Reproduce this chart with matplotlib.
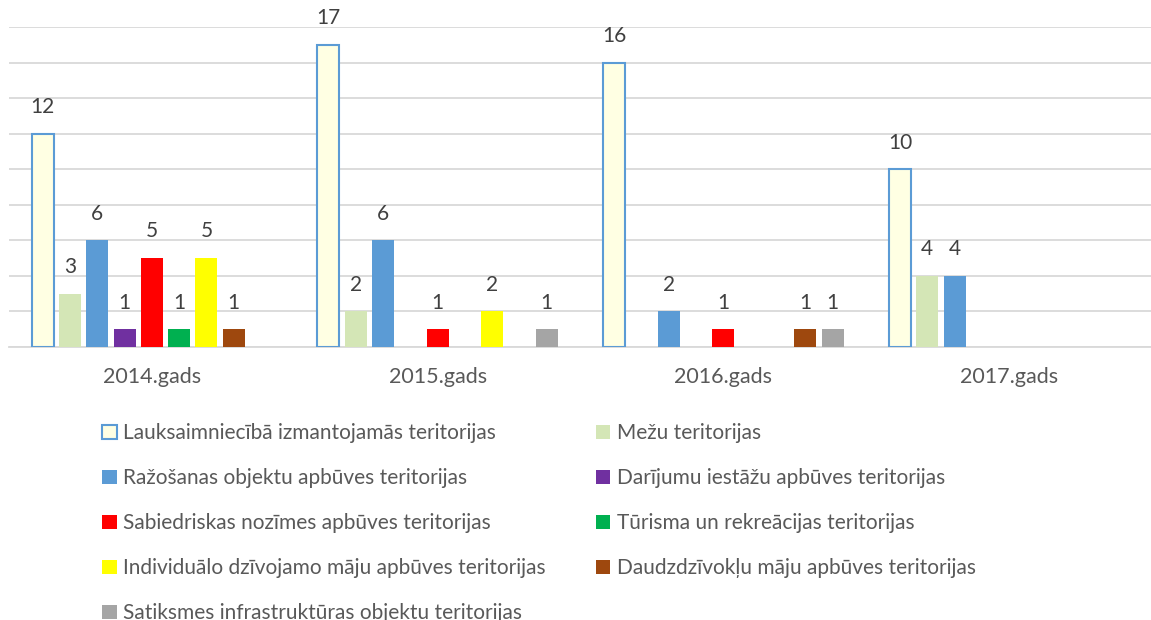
#!/usr/bin/env python3
"""Grouped bar chart of territory types by year."""

import matplotlib

matplotlib.use("Agg")
import matplotlib.pyplot as plt
import numpy as np

plt.rcParams["font.family"] = ["Lato", "DejaVu Sans"]

YEARS = ["2014.gads", "2015.gads", "2016.gads", "2017.gads"]
SERIES = [
    "Lauksaimniecībā izmantojamās teritorijas",
    "Mežu teritorijas",
    "Ražošanas objektu apbūves teritorijas",
    "Darījumu iestāžu apbūves teritorijas",
    "Sabiedriskas nozīmes apbūves teritorijas",
    "Tūrisma un rekreācijas teritorijas",
    "Individuālo dzīvojamo māju apbūves teritorijas",
    "Daudzdzīvokļu māju apbūves teritorijas",
    "Satiksmes infrastruktūras objektu teritorijas",
]
nan = np.nan
lauksaimniecibas = [12, 17, 16, 10]
mezu = [3, 2, nan, 4]
razosanas = [6, 6, 2, 4]
darijumu = [1, nan, nan, nan]
sabiedriskas = [5, 1, 1, nan]
turisma = [1, nan, nan, nan]
individualo = [5, 2, nan, nan]
daudzdzivoklu = [1, nan, 1, nan]
satiksmes = [nan, 1, 1, nan]
VALUES = [lauksaimniecibas, mezu, razosanas, darijumu, sabiedriskas,
          turisma, individualo, daudzdzivoklu, satiksmes]

COLORS = ["#FFFFE3", "#D4E6B6", "#5B9BD5", "#7030A0", "#FF0000",
          "#00B050", "#FFFF00", "#9E480E", "#A5A5A5"]

fig = plt.figure(figsize=(11.51, 6.2), dpi=100)
ax = fig.add_axes([9 / 1151, 273 / 620, 1143 / 1151, 320 / 620])

x = np.arange(len(YEARS))
slot = 0.0955
width = 0.077
handles = []
for i, (name, vals, color) in enumerate(zip(SERIES, VALUES, COLORS)):
    vals = np.array(vals, dtype=float)
    mask = ~np.isnan(vals)
    pos = x + (i - 4) * slot
    if i == 0:
        bars = ax.bar(pos[mask], vals[mask], width=width, color=color,
                      edgecolor="#5B9BD5", linewidth=1.5, label=name, zorder=3)
    else:
        bars = ax.bar(pos[mask], vals[mask], width=width, color=color,
                      label=name, zorder=3)
    handles.append(bars)
    for p, v in zip(pos[mask], vals[mask]):
        ax.annotate(f"{int(v)}", (p, v), xytext=(0, 12), textcoords="offset points",
                    ha="center", va="bottom", fontsize=15, color="#404040")

ax.set_xlim(-0.5, 3.5)
ax.set_ylim(0, 18)
ax.set_yticks(np.arange(0, 19, 2))
ax.yaxis.grid(True, color="#D9D9D9", linewidth=1.3, zorder=0)
ax.tick_params(axis="y", left=False, labelleft=False)
ax.tick_params(axis="x", bottom=False, pad=11, labelsize=15.5, labelcolor="#595959")
ax.set_xticks(x)
ax.set_xticklabels(YEARS)
for side in ["top", "right", "left"]:
    ax.spines[side].set_visible(False)
ax.spines["bottom"].set_color("#D9D9D9")
ax.spines["bottom"].set_linewidth(1.3)

# row-major order across the two legend columns, like the original
order = [0, 2, 4, 6, 8, 1, 3, 5, 7]
leg = fig.legend([handles[k] for k in order], [SERIES[k] for k in order],
                 ncol=2, loc="upper left", bbox_to_anchor=(94 / 1151, 1 - 415 / 620),
                 frameon=False, fontsize=15, labelcolor="#595959",
                 handlelength=0.7, handleheight=0.7, handletextpad=0.3,
                 labelspacing=1.2, columnspacing=2.4, borderaxespad=0)

fig.savefig("out.png", dpi=100)
